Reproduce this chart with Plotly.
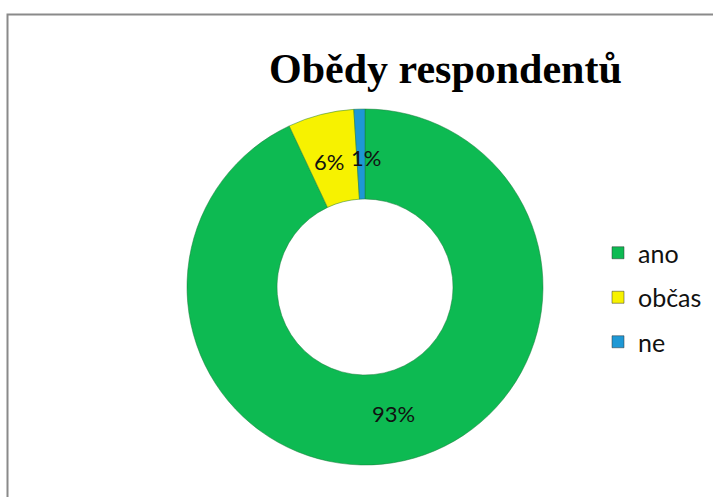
import math
import plotly.graph_objects as go

categories = ["ano", "občas", "ne"]
values = [93, 6, 1]
colors = ["#0dba52", "#f7f200", "#1e98d5"]
title_text = "Obědy respondentů"

W, H = 713, 497
cx_px, cy_px = 365, 287
r_out, r_in = 178, 88

fig = go.Figure()
fig.add_trace(go.Pie(
    labels=categories, values=values, hole=r_in / r_out, sort=False,
    direction="clockwise", rotation=0,
    marker=dict(colors=colors, line=dict(color="#1a7a3a", width=0.5)),
    textinfo="none", hoverinfo="label+percent", showlegend=False,
    domain=dict(x=[(cx_px - r_out) / W, (cx_px + r_out) / W],
                y=[1 - (cy_px + r_out) / H, 1 - (cy_px - r_out) / H]),
))

# legend entries
for i, (c, col) in enumerate(zip(categories, colors)):
    fig.add_trace(go.Scatter(
        x=[None], y=[None], mode="markers", name=c, legendgroup=c,
        marker=dict(symbol="square", size=12, color=col,
                    line=dict(color="#333333", width=0.5)),
    ))

# percentage labels computed from the data
total = sum(values)
cum = 0
r_mid = 130
for i, v in enumerate(values):
    mid = (cum + v / 2) / total * 2 * math.pi
    cum += v
    px = cx_px + r_mid * math.sin(mid)
    py = cy_px - r_mid * math.cos(mid)
    # push apart the two labels of the thin neighbouring slices
    shift = 0
    if i == 1:
        shift = -4
    elif i == 2:
        shift = 5
    fig.add_annotation(x=px / W, y=1 - py / H, xref="paper", yref="paper",
                       text=f"{round(v / total * 100)}%", showarrow=False,
                       font=dict(family="Lato, Carlito, sans-serif", size=22, color="#111111"),
                       xanchor="center", yanchor="middle", xshift=shift, borderpad=0)

fig.add_annotation(x=445 / W, y=1 - 69 / H, xref="paper", yref="paper",
                   text=f"<b>{title_text}</b>", showarrow=False,
                   font=dict(family="Liberation Serif, Times New Roman, serif", size=42, color="#000000"),
                   xanchor="center", yanchor="middle")

fig.add_shape(type="rect", xref="paper", yref="paper",
              x0=7.5 / W, x1=1.02, y0=-0.02, y1=1 - 14.5 / H,
              line=dict(color="#8a8a8a", width=2), fillcolor="rgba(0,0,0,0)")

fig.update_layout(
    width=W, height=H, margin=dict(l=0, r=0, t=0, b=0),
    paper_bgcolor="white", plot_bgcolor="white",
    xaxis=dict(visible=False), yaxis=dict(visible=False),
    legend=dict(x=598 / W, y=1 - 230 / H, xanchor="left", yanchor="top",
                font=dict(family="Lato, Carlito, sans-serif", size=25, color="#111111"),
                tracegroupgap=9, bgcolor="rgba(0,0,0,0)"),
)

fig.write_html("out.html")
